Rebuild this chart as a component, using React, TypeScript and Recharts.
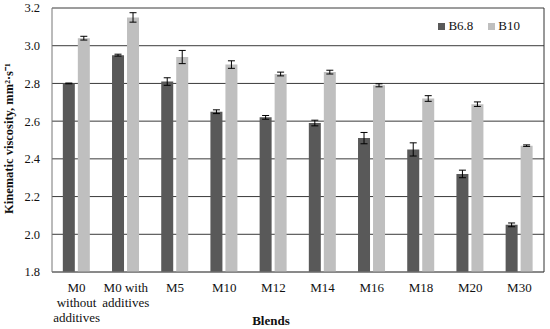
import React from 'react'
import { BarChart, Bar, XAxis, YAxis, CartesianGrid, Legend, ErrorBar } from 'recharts'

const blends = ['M0\nwithout\nadditives', 'M0 with\nadditives', 'M5', 'M10', 'M12', 'M14', 'M16', 'M18', 'M20', 'M30']
const b68 = [2.8, 2.95, 2.81, 2.65, 2.62, 2.59, 2.51, 2.45, 2.32, 2.05]
const b68Err = [0.002, 0.005, 0.02, 0.01, 0.01, 0.015, 0.03, 0.035, 0.02, 0.01]
const b10 = [3.04, 3.15, 2.94, 2.9, 2.85, 2.86, 2.79, 2.72, 2.69, 2.47]
const b10Err = [0.01, 0.025, 0.035, 0.02, 0.01, 0.01, 0.008, 0.015, 0.012, 0.004]
const yTicks = [1.8, 2.0, 2.2, 2.4, 2.6, 2.8, 3.0, 3.2]
const seriesNames = ['B6.8', 'B10']
const seriesColors = ['#595959', '#bfbfbf']

const data = blends.map((name, i) => ({
  name,
  b68: b68[i],
  b68Err: b68Err[i],
  b10: b10[i],
  b10Err: b10Err[i],
}))

const FONT = '"Liberation Serif", serif'

const BlendTick = (props: any) => {
  const { x, y, payload } = props
  const lines = String(payload.value).split('\n')
  return (
    <text x={x} y={y} textAnchor="middle" fontFamily={FONT} fontSize={13} fill="#111">
      {lines.map((l, i) => (
        <tspan key={i} x={x} dy={i === 0 ? 12 : 15}>{l}</tspan>
      ))}
    </text>
  )
}

const LegendBox = () => (
  <div style={{ display: 'flex', gap: 15, fontFamily: FONT, fontSize: 13, color: '#111' }}>
    {seriesNames.map((n, i) => (
      <span key={n} style={{ display: 'flex', alignItems: 'center' }}>
        <span style={{ width: 7, height: 7, background: seriesColors[i], marginRight: 3, display: 'inline-block' }} />
        {n}
      </span>
    ))}
  </div>
)

export default function App() {
  return (
    <div style={{ position: 'absolute', left: 0, top: 0, width: 550, height: 329, background: '#fff' }}>
      <BarChart
        width={550}
        height={329}
        data={data}
        margin={{ top: 8, right: 3, bottom: 0, left: 0 }}
        barCategoryGap="22%"
        barGap={3}
      >
        <CartesianGrid yAxisId="l" vertical={false} stroke="#3a3a3a" strokeWidth={1} />
        <XAxis
          dataKey="name"
          height={57}
          tick={<BlendTick />}
          tickLine={false}
          axisLine={{ stroke: '#777' }}
          interval={0}
          label={{ value: 'Blends', position: 'insideBottom', offset: 4, dx: -27, fontFamily: FONT, fontWeight: 'bold', fontSize: 13, fill: '#111' }}
        />
        <YAxis
          yAxisId="l"
          width={52}
          domain={[1.8, 3.2]}
          ticks={yTicks}
          tickFormatter={(v: number) => v.toFixed(1)}
          tickSize={0}
          tickMargin={12}
          axisLine={{ stroke: '#777' }}
          tick={{ fontFamily: FONT, fontSize: 12.5, fill: '#111' }}
          label={{ value: 'Kinematic viscosity, mm²·s⁻¹', angle: -90, position: 'insideLeft', dx: 4, dy: 74, fontFamily: FONT, fontWeight: 'bold', fontSize: 12.5, fill: '#111' }}
        />
        <YAxis
          yAxisId="r"
          orientation="right"
          width={3}
          domain={[1.8, 3.2]}
          tick={false}
          tickLine={false}
          axisLine={{ stroke: '#333' }}
        />
        <Legend
          verticalAlign="middle"
          align="center"
          content={<LegendBox />}
          wrapperStyle={{ top: 18, right: 30, left: 'auto', width: 'auto' }}
        />
        <Bar yAxisId="l" dataKey="b68" name="B6.8" fill={seriesColors[0]} isAnimationActive={false}>
          <ErrorBar dataKey="b68Err" width={3.5} stroke="#000" strokeWidth={1} />
        </Bar>
        <Bar yAxisId="l" dataKey="b10" name="B10" fill={seriesColors[1]} isAnimationActive={false}>
          <ErrorBar dataKey="b10Err" width={3.5} stroke="#000" strokeWidth={1} />
        </Bar>
      </BarChart>
    </div>
  )
}
